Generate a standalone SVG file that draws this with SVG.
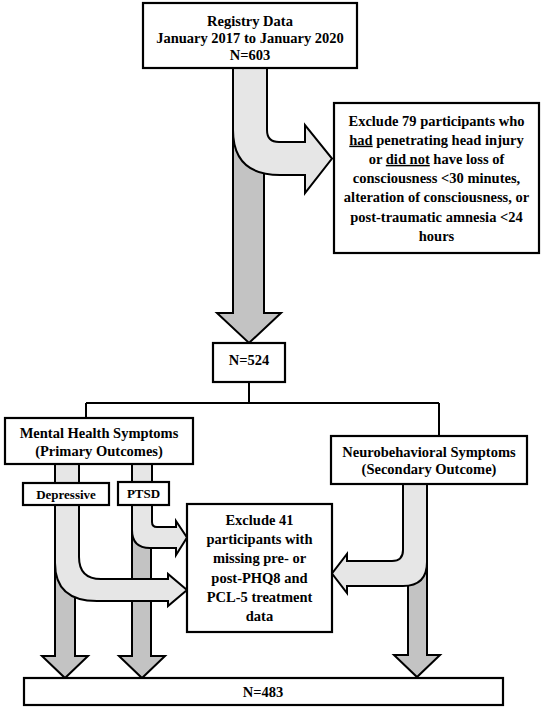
<svg xmlns="http://www.w3.org/2000/svg" width="546" height="708" viewBox="0 0 546 708">
<style>
.box{fill:#fff;stroke:#000;stroke-width:2.2}
.dark{fill:#c3c3c3;stroke:#000;stroke-width:2;stroke-linejoin:miter}
.light{fill:#e6e6e6;stroke:#000;stroke-width:2;stroke-linejoin:miter}
.line{fill:none;stroke:#000;stroke-width:2}
text{font-family:"Liberation Serif","Times New Roman",serif;font-weight:bold;font-size:14.5px;fill:#000;text-anchor:middle}
.sm{font-size:13px}
</style>
<rect width="546" height="708" fill="#fff"/>
<g id="connectors">
<path class="dark" d="M233,68 L233,313 L217,313 L249,343 L281,313 L264,313 L264,68 Z"/>
<path class="light" d="M233,68 L233,130 Q233,175 280,175 L305,175 L305,193 L332,158.5 L305,125 L305,142 L279,142 Q267,142 267,130 L267,68 Z"/>
<path class="line" d="M249,382 L249,403 M86,403 L439,403 M86,403 L86,418 M439,403 L439,436"/>
<path class="dark" d="M55,463 L55,656 L42,656 L65,678 L88,656 L75,656 L75,463 Z"/>
<path class="dark" d="M132,463 L132,656 L119,656 L142,678 L165,656 L151,656 L151,463 Z"/>
<path class="dark" d="M408,484 L408,655 L394,655 L417,677 L440,655 L427,655 L427,484 Z"/>
<path class="light" d="M55,463 L55,563 Q55,601 97,601 L168,601 L168,606 L187,590 L168,574 L168,579 L101,579 Q79,579 79,557 L79,463 Z"/>
<path class="light" d="M132,463 L132,530 Q132,548 150,548 L176,548 L176,555 L187,537.5 L176,521 L176,527 L157,527 Q152,527 152,522 L152,463 Z"/>
<path class="light" d="M427,484 L427,562 Q427,586 403,586 L347,586 L347,593 L332,573.5 L347,554 L347,561 L392,561 Q403,561 403,550 L403,484 Z"/>
</g>
<g id="registry">
<rect class="box" x="143" y="3" width="214" height="65"/>
<text x="250" y="25.5">Registry Data</text>
<text x="250" y="42.5">January 2017 to January 2020</text>
<text x="250" y="59.5">N=603</text>
</g>
<g id="exclude79">
<rect class="box" x="334" y="103" width="205" height="150"/>
<text x="436.5" y="125.5">Exclude 79 participants who</text>
<text x="436.5" y="144.7"><tspan text-decoration="underline">had</tspan> penetrating head injury</text>
<text x="436.5" y="163.9">or <tspan text-decoration="underline">did not</tspan> have loss of</text>
<text x="436.5" y="183.1">consciousness &lt;30 minutes,</text>
<text x="436.5" y="202.3">alteration of consciousness, or</text>
<text x="436.5" y="221.5">post-traumatic amnesia &lt;24</text>
<text x="436.5" y="240.7">hours</text>
</g>
<g id="n524">
<rect class="box" x="213" y="343" width="72" height="39"/>
<text x="249" y="365">N=524</text>
</g>
<g id="mental">
<rect class="box" x="5" y="418" width="188" height="46"/>
<text x="99" y="438">Mental Health Symptoms</text>
<text x="99" y="456">(Primary Outcomes)</text>
</g>
<g id="neuro">
<rect class="box" x="331" y="436" width="196" height="48"/>
<text x="429" y="456.5">Neurobehavioral Symptoms</text>
<text x="429" y="474">(Secondary Outcome)</text>
</g>
<g id="depressive">
<rect class="box" x="23" y="483" width="86" height="22"/>
<text class="sm" x="66" y="498.5">Depressive</text>
</g>
<g id="ptsd">
<rect class="box" x="118" y="482" width="51" height="23"/>
<text class="sm" x="143.5" y="498">PTSD</text>
</g>
<g id="exclude41">
<rect class="box" x="187" y="504" width="145" height="128"/>
<text x="259.5" y="525">Exclude 41</text>
<text x="259.5" y="544.2">participants with</text>
<text x="259.5" y="563.4">missing pre- or</text>
<text x="259.5" y="582.6">post-PHQ8 and</text>
<text x="259.5" y="601.8">PCL-5 treatment</text>
<text x="259.5" y="621">data</text>
</g>
<g id="n483">
<rect class="box" x="24" y="678" width="479" height="27"/>
<text x="263" y="696.5">N=483</text>
</g>
</svg>
